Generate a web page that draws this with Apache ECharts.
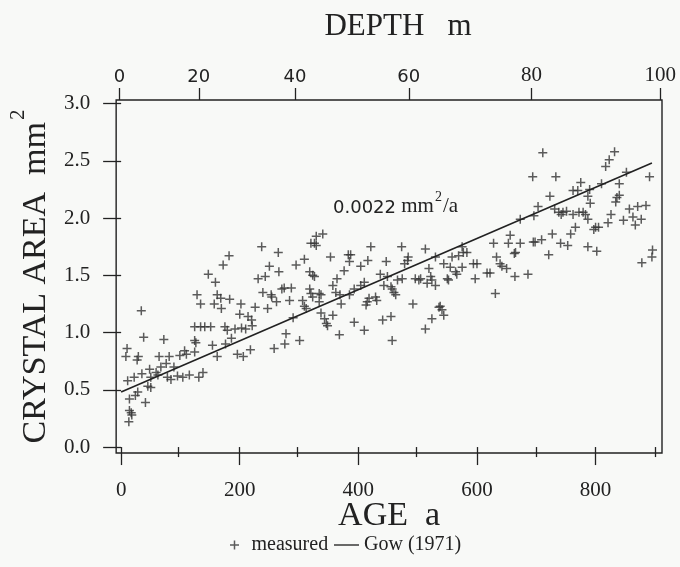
<!DOCTYPE html>
<html>
<head>
<meta charset="utf-8">
<script src="https://cdn.jsdelivr.net/npm/echarts@6/dist/echarts.min.js"></script>
<style>
html,body{margin:0;padding:0;background:#f8f9f7;}
#c{width:680px;height:567px;}
</style>
</head>
<body>
<div id="c"></div>
<script>
// ---- data ----
const measuredAge = [
182,172,147,159,231,128,162,168,183,134,157,169,202,226,200,214,220,34,124,134,141,151,175,179,192,203,210,221,38,72,124,126,186,154,176,10,8,29,27,64,81,99,107,110,124,162,196,206,218,76,67,48,35,59,62,22,11,50,78,84,95,104,115,131,138,89,45,50,28,24,14,41,14,17,18,13,
340,329,326,320,329,237,265,309,295,250,353,383,387,385,376,404,416,421,447,266,318,323,326,243,364,410,437,449,357,239,253,254,271,275,287,318,320,323,334,337,362,369,385,393,404,418,415,429,431,443,455,284,262,247,306,309,312,334,371,413,290,337,343,357,346,348,393,410,368,441,455,278,276,258,301,457,
673,656,628,653,673,663,665,473,513,575,577,583,569,558,530,484,483,478,633,639,642,650,544,555,575,564,566,594,600,519,617,622,597,664,686,550,552,474,466,457,460,463,496,502,505,522,524,530,516,631,492,538,536,541,544,524,513,
711,832,823,817,694,733,891,852,775,762,770,790,810,840,787,791,840,836,834,723,703,731,738,745,751,742,762,772,779,783,787,696,857,871,885,863,877,867,826,821,847,800,805,797,766,758,727,695,698,709,741,753,787,802,721,878,896,895
];
const measuredArea = [
1.67,1.59,1.51,1.44,1.47,1.33,1.33,1.30,1.29,1.25,1.25,1.21,1.25,1.22,1.16,1.14,1.11,1.19,1.05,1.05,1.05,1.05,1.05,1.02,1.03,1.04,1.03,1.06,0.96,0.94,0.93,0.91,0.95,0.89,0.90,0.86,0.79,0.79,0.76,0.79,0.79,0.80,0.84,0.81,0.83,0.79,0.81,0.79,0.85,0.73,0.70,0.68,0.64,0.65,0.63,0.61,0.58,0.61,0.61,0.59,0.62,0.61,0.63,0.61,0.65,0.70,0.53,0.52,0.48,0.45,0.42,0.39,0.32,0.30,0.28,0.22,
1.86,1.84,1.78,1.78,1.76,1.75,1.70,1.64,1.59,1.58,1.66,1.68,1.68,1.62,1.54,1.58,1.63,1.75,1.62,1.53,1.53,1.50,1.49,1.49,1.47,1.44,1.51,1.49,1.41,1.35,1.33,1.31,1.38,1.39,1.39,1.38,1.34,1.31,1.34,1.33,1.35,1.33,1.33,1.38,1.41,1.30,1.27,1.31,1.28,1.41,1.40,1.28,1.27,1.21,1.28,1.23,1.21,1.27,1.25,1.24,1.13,1.17,1.12,1.15,1.08,1.06,1.09,1.02,0.98,1.11,1.14,0.99,0.90,0.86,0.93,0.93,
1.99,1.85,1.78,1.78,1.78,1.69,1.70,1.75,1.73,1.75,1.70,1.70,1.67,1.66,1.66,1.66,1.63,1.60,1.66,1.60,1.58,1.56,1.60,1.57,1.57,1.53,1.51,1.60,1.60,1.56,1.52,1.52,1.47,1.49,1.51,1.47,1.46,1.47,1.46,1.38,1.35,1.33,1.47,1.46,1.47,1.49,1.46,1.41,1.43,1.34,1.25,1.23,1.22,1.20,1.15,1.12,1.03,
2.57,2.58,2.51,2.45,2.36,2.36,2.36,2.40,2.31,2.24,2.24,2.25,2.30,2.30,2.19,2.13,2.20,2.18,2.14,2.19,2.10,2.08,2.05,2.05,2.06,2.03,2.03,2.05,2.05,2.03,1.99,2.02,2.08,2.10,2.11,2.01,1.99,1.94,2.03,1.96,1.98,1.92,1.92,1.90,1.92,1.86,1.86,1.79,1.79,1.81,1.78,1.76,1.75,1.71,1.68,1.61,1.72,1.66
];
const gowAge = [0, 895];
const gowArea = [0.48, 2.48];

const ageTicks = [0, 200, 400, 600, 800];
const ageMinorTicks = [100, 300, 500, 700, 900];
const areaTicks = [0, 0.5, 1.0, 1.5, 2.0, 2.5, 3.0];
const depthTicks = [0, 20, 40, 60, 80, 100];
const depthTickAge = [-3, 131, 293, 485, 692, 909];

const AGE_MIN = -8.4, AGE_MAX = 912;
const AREA_MIN = -0.052, AREA_MAX = 3.031;

// ---- chart ----
const SERIF = '"Liberation Serif", "DejaVu Serif", serif';
const SANS = '"DejaVu Sans", sans-serif';
const INK = '#222';
const plusPath = 'path://M5,0h2v5h5v2h-5v5h-2v-5h-5v-2h5z';

const chart = echarts.init(document.getElementById('c'));
const gridBox = {left: 114, top: 100, width: 548, height: 353};

chart.setOption({
  backgroundColor: '#f8f9f7',
  animation: false,
  grid: [
    Object.assign({show: true, borderColor: INK, borderWidth: 1.4, backgroundColor: 'transparent'}, gridBox),
    Object.assign({}, gridBox)
  ],
  xAxis: [
    {
      type: 'value', gridIndex: 0, position: 'bottom', min: AGE_MIN, max: AGE_MAX,
      axisLine: {show: false}, splitLine: {show: false},
      axisTick: {show: true, inside: false, length: 18, customValues: ageTicks, lineStyle: {color: INK, width: 1.3}},
      axisLabel: {customValues: ageTicks, margin: 27, fontFamily: SERIF, fontSize: 21, color: INK},
      name: 'AGE  a', nameLocation: 'middle', nameGap: 46, nameMoveOverlap: false,
      nameTextStyle: {fontFamily: SERIF, fontSize: 34, color: INK}
    },
    {
      type: 'value', gridIndex: 0, position: 'top', min: AGE_MIN, max: AGE_MAX,
      axisLine: {show: false}, splitLine: {show: false},
      axisTick: {show: true, length: 12, customValues: depthTickAge, lineStyle: {color: INK, width: 1.3}},
      axisLabel: {
        customValues: depthTickAge, margin: 14, color: INK,
        formatter: function (v) {
          let i = 0, best = Infinity;
          depthTickAge.forEach(function (a, k) { if (Math.abs(a - v) < best) { best = Math.abs(a - v); i = k; } });
          const d = depthTicks[i];
          return d >= 80 ? '{r|' + d + '}' : '{s|' + d + '}';
        },
        rich: {
          s: {fontFamily: SANS, fontSize: 18, color: INK},
          r: {fontFamily: SERIF, fontSize: 21, color: INK}
        }
      },
      name: 'DEPTH   m', nameLocation: 'middle', nameGap: 58,
      nameTextStyle: {fontFamily: SERIF, fontSize: 31, color: INK, padding: [0, 0, 0, 18]}
    },
    {
      type: 'value', gridIndex: 1, position: 'bottom', min: AGE_MIN, max: AGE_MAX,
      axisLine: {show: false}, splitLine: {show: false},
      axisTick: {show: true, length: 10, customValues: ageMinorTicks, lineStyle: {color: INK, width: 1.3}},
      axisLabel: {show: false}
    }
  ],
  yAxis: [
    {
      type: 'value', gridIndex: 0, min: AREA_MIN, max: AREA_MAX,
      axisLine: {show: false}, splitLine: {show: false},
      axisTick: {show: true, length: 18, customValues: areaTicks, lineStyle: {color: INK, width: 1.3}},
      axisLabel: {customValues: areaTicks, margin: 26, fontFamily: SERIF, fontSize: 21, color: INK,
        formatter: function (v) { return v.toFixed(1); }},
      name: '{m|CRYSTAL AREA  mm}{s|2}', nameLocation: 'middle', nameGap: 50, nameRotate: 90,
      nameTextStyle: {
        rich: {
          m: {fontFamily: SERIF, fontSize: 34, color: INK, verticalAlign: 'bottom'},
          s: {fontFamily: SERIF, fontSize: 21, color: INK, verticalAlign: 'bottom', padding: [0, 0, 24, 2]}
        }
      }
    },
    {type: 'value', gridIndex: 1, show: false, min: AREA_MIN, max: AREA_MAX}
  ],
  legend: [
    {
      data: [{name: 'measured', icon: plusPath}],
      left: 230, top: 535, itemWidth: 24, itemHeight: 9, padding: 0,
      textStyle: {fontFamily: SERIF, fontSize: 20, color: INK}
    },
    {
      data: [{name: 'Gow (1971)', icon: 'path://M0,0h30v1.6h-30z'}],
      left: 334, top: 535, itemWidth: 25, itemHeight: 10, padding: 0,
      textStyle: {fontFamily: SERIF, fontSize: 20, color: INK}
    }
  ],
  graphic: [
    {
      type: 'text', left: 333, top: 190, silent: true,
      style: {
        text: '{a|0.0022}{b| mm}{s|2}{b|/a}',
        rich: {
          a: {fontFamily: SANS, fontSize: 18, fill: INK, verticalAlign: 'bottom'},
          b: {fontFamily: SERIF, fontSize: 21, fill: INK, verticalAlign: 'bottom'},
          s: {fontFamily: SERIF, fontSize: 14, fill: INK, verticalAlign: 'bottom', padding: [0, 1, 13, 1]}
        }
      }
    }
  ],
  series: [
    {
      name: 'measured', type: 'scatter', xAxisIndex: 0, yAxisIndex: 0,
      symbol: plusPath, symbolSize: 9,
      itemStyle: {color: '#333'},
      data: measuredAge.map(function (a, i) { return [a, measuredArea[i]]; })
    },
    {
      name: 'Gow (1971)', type: 'line', xAxisIndex: 0, yAxisIndex: 0,
      showSymbol: false, symbol: 'none',
      lineStyle: {color: INK, width: 1.6}, itemStyle: {color: INK},
      data: gowAge.map(function (a, i) { return [a, gowArea[i]]; })
    }
  ]
});
</script>
</body>
</html>
